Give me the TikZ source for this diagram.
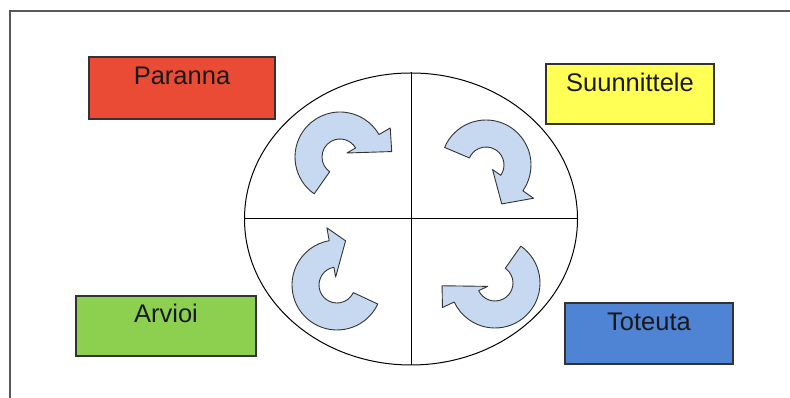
\documentclass[tikz,border=0pt]{standalone}
\usepackage{fontspec}
\setmainfont{Liberation Sans}
\usetikzlibrary{shapes.geometric}
\definecolor{planyellow}{HTML}{FFFF55}
\definecolor{dored}{HTML}{E94B35}
\definecolor{checkgreen}{HTML}{8DD050}
\definecolor{actblue}{HTML}{4F83D3}
\definecolor{turnfill}{HTML}{C6D9F1}
\tikzset{
  stage/.style={draw=black!80,line width=1.1pt,inner sep=0pt},
  stagelabel/.style={inner sep=0pt,text=black!90,font=\fontsize{25.5}{30}\selectfont},
  turn/.style={draw=black!80,line width=0.9pt,fill=turnfill,line join=round},
}
\newcommand{\turnarrow}[5]{%
  \draw[turn,shift={(#1)}] (#2:45) arc[start angle=#2,end angle=#3,radius=45]
    -- (#3:58) -- (#4:#5) -- (#3:8) -- (#3:18)
    arc[start angle=#3,end angle=#2,radius=18] -- cycle;}
\begin{document}
\begin{tikzpicture}[x=1pt,y=1pt]
  \useasboundingbox (0,0) rectangle (790,398);
  \draw[black!65,line width=2pt] (10,0) -- (10,387) -- (790,387);
  \node[ellipse,draw,line width=1pt,minimum width=333,minimum height=292,inner sep=0pt] (wheel) at (411,179) {};
  \draw[line width=1pt] (wheel.west) -- (wheel.east);
  \draw[line width=1pt] (wheel.north) -- (wheel.south);
  \node[stage,fill=dored,minimum width=186,minimum height=62] (paranna) at (182,310) {};
  \node[stagelabel] (paranna-t) at ([yshift=-19pt]paranna.north) {Paranna};
  \node[stage,fill=planyellow,minimum width=168,minimum height=60] (suunnittele) at (630,304) {};
  \node[stagelabel] (suunnittele-t) at ([yshift=-19pt]suunnittele.north) {Suunnittele};
  \node[stage,fill=checkgreen,minimum width=180,minimum height=60] (arvioi) at (166,72) {};
  \node[stagelabel] (arvioi-t) at ([yshift=-18pt]arvioi.north) {Arvioi};
  \node[stage,fill=actblue,minimum width=168,minimum height=61] (toteuta) at (649,64.5) {};
  \node[stagelabel] (toteuta-t) at ([yshift=-19pt]toteuta.north) {Toteuta};
  \turnarrow{340,241}{235}{30}{6}{52}
  \turnarrow{486,233}{157}{-35}{-68}{42}
  \turnarrow{337,113}{-25}{-260}{-281}{45}
  \turnarrow{495,115}{55}{-155}{-177}{53}
\end{tikzpicture}
\end{document}
